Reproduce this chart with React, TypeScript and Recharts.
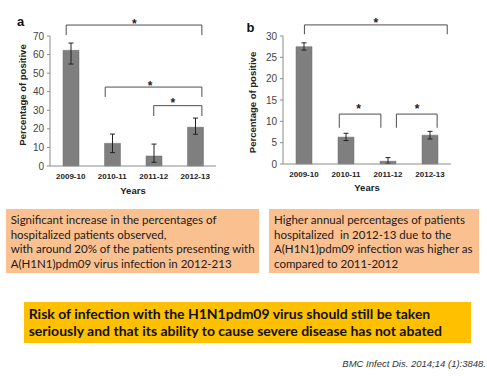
import React from 'react';
import { BarChart, Bar, XAxis, YAxis, ErrorBar, ReferenceLine, ReferenceDot } from 'recharts';

// ---------- data ----------
const years = ['2009-10', '2010-11', '2011-12', '2012-13'];

// panel a: hospitalized patients
const valuesA = [62.3, 12.2, 5.4, 20.9];
const errLowA = [7.4, 5.0, 3.4, 3.8];
const errHighA = [3.9, 5.0, 6.4, 4.9];
const ticksA = [0, 10, 20, 30, 40, 50, 60, 70];

// panel b: annual percentages
const valuesB = [27.5, 6.3, 0.65, 6.75];
const errLowB = [0.8, 0.8, 0.5, 0.9];
const errHighB = [0.9, 0.9, 0.85, 0.9];
const ticksB = [0, 5, 10, 15, 20, 25, 30];

// significance brackets (x in category-position units 0..4, y in data units)
const bracketFromA = [0.39, 1.33, 2.5];
const bracketToA = [3.66, 3.66, 3.66];
const bracketYA = [75.9, 42.5, 32.5];
const bracketDropA = [70.5, 37.2, 26.9];
const starXA = [2.03, 2.41, 2.96];
const starYA = [78.1, 44.7, 35.5];

const bracketFromB = [0.51, 1.34, 2.7];
const bracketToB = [3.91, 2.33, 3.67];
const bracketYB = [32.6, 11.7, 11.7];
const bracketDropB = [30.4, 8.5, 8.5];
const starXB = [2.21, 1.8, 3.19];
const starYB = [33.75, 13.6, 13.6];

// captions
const noteLeft = [
  'Significant increase in the percentages of',
  'hospitalized patients observed,',
  'with around 20% of the patients presenting with',
  'A(H1N1)pdm09 virus infection in 2012-213',
];
const noteRight = [
  'Higher annual percentages of patients',
  'hospitalized  in 2012-13 due to the',
  'A(H1N1)pdm09 infection was higher as',
  'compared to 2011-2012',
];
const conclusion = [
  'Risk of infection with the H1N1pdm09 virus should still be taken',
  'seriously and that its ability to cause severe disease has not abated',
];
const citation = 'BMC Infect Dis. 2014;14 (1):3848.';

const dataA = years.map((y, i) => ({ year: y, pos: i + 0.5, value: valuesA[i], err: [errLowA[i], errHighA[i]] }));
const dataB = years.map((y, i) => ({ year: y, pos: i + 0.5, value: valuesB[i], err: [errLowB[i], errHighB[i]] }));

const AXIS = '#8c8c8c';
const BAR = '#7f7f7f';
const LINE = '#4d4d4d';

const Star = (props: any) => (
  <text x={props.cx} y={props.cy + 7} textAnchor="middle" fontSize={12} fontWeight="bold" fill="#222" fontFamily="Liberation Sans, Arial, sans-serif">*</text>
);

function brackets(from: number[], to: number[], ys: number[], drops: number[], sx: number[], sy: number[]) {
  const out: any[] = [];
  from.forEach((f, i) => {
    const t = to[i];
    const y = ys[i];
    const d = drops[i];
    out.push(<ReferenceLine key={`h${i}`} xAxisId="n" segment={[{ x: f, y }, { x: t, y }]} stroke={LINE} strokeWidth={1} ifOverflow="visible" />);
    out.push(<ReferenceLine key={`l${i}`} xAxisId="n" segment={[{ x: f, y }, { x: f, y: d }]} stroke={LINE} strokeWidth={1} ifOverflow="visible" />);
    out.push(<ReferenceLine key={`r${i}`} xAxisId="n" segment={[{ x: t, y }, { x: t, y: d }]} stroke={LINE} strokeWidth={1} ifOverflow="visible" />);
    out.push(<ReferenceDot key={`s${i}`} xAxisId="n" x={sx[i]} y={sy[i]} r={0} ifOverflow="visible" shape={Star} />);
  });
  return out;
}

const font = 'Liberation Sans, Arial, sans-serif';

function Panel(props: {
  data: any[]; ticks: number[]; max: number; yWidth: number; right: number; xHeight: number; width: number;
  titleX: number; titleY: number; yearsOffset: number; br: any[];
}) {
  const { data, ticks, max, yWidth, right, xHeight, width, titleX, titleY, yearsOffset, br } = props;
  return (
    <BarChart width={width} height={200} data={data} margin={{ top: 36, right, left: 0, bottom: 0 }} barSize={16}>
      <XAxis
        dataKey="year"
        height={xHeight}
        tickLine={false}
        tickSize={4}
        tickMargin={3}
        axisLine={{ stroke: AXIS }}
        tick={{ fontSize: 8, fontWeight: 'bold', fill: '#222', fontFamily: font }}
        interval={0}
        label={{ value: 'Years', position: 'insideBottom', offset: yearsOffset, style: { fontSize: 9.5, fontWeight: 'bold', fill: '#222', fontFamily: font } }}
      />
      <XAxis xAxisId="n" dataKey="pos" type="number" domain={[0, 4]} ticks={[0, 1, 2, 3, 4]} hide allowDataOverflow />
      <YAxis
        width={yWidth}
        domain={[0, max]}
        ticks={ticks}
        interval={0}
        tickSize={3}
        tickMargin={3}
        axisLine={{ stroke: AXIS }}
        tickLine={{ stroke: AXIS }}
        tick={{ fontSize: 10, fill: '#444', fontFamily: font }}
        label={{
          content: () => (
            <text x={titleX} y={titleY} transform={`rotate(-90 ${titleX} ${titleY})`} textAnchor="middle" dominantBaseline="central" fontSize={9.5} fontWeight="bold" fill="#222" fontFamily={font}>
              Percentage of positive
            </text>
          ),
        }}
      />
      <Bar dataKey="value" fill={BAR} stroke="#6e6e6e" strokeWidth={0.5} isAnimationActive={false}>
        <ErrorBar dataKey="err" width={2.5} stroke="#222" strokeWidth={1} direction="y" />
      </Bar>
      {br}
    </BarChart>
  );
}

export default function App() {
  return (
    <div style={{ position: 'absolute', left: 0, top: 0, width: 487, height: 376, background: '#fff', overflow: 'hidden' }}>
      <div style={{ position: 'absolute', left: 0, top: 0 }}>
        <Panel data={dataA} ticks={ticksA} max={70} yWidth={50} right={29} xHeight={34} width={245}
          titleX={22} titleY={95} yearsOffset={6.5}
          br={brackets(bracketFromA, bracketToA, bracketYA, bracketDropA, starXA, starYA)} />
      </div>
      <div style={{ position: 'absolute', left: 245, top: 0 }}>
        <Panel data={dataB} ticks={ticksB} max={30} yWidth={38} right={36} xHeight={36} width={242}
          titleX={7.5} titleY={102.5} yearsOffset={9.3}
          br={brackets(bracketFromB, bracketToB, bracketYB, bracketDropB, starXB, starYB)} />
      </div>
      <svg width={487} height={376} style={{ position: 'absolute', left: 0, top: 0, pointerEvents: 'none' }}>
        <text x={17} y={25.5} fontSize={13} fontWeight="bold" fill="#111" fontFamily={font}>a</text>
        <text x={246.5} y={31.7} fontSize={13} fontWeight="bold" fill="#111" fontFamily={font}>b</text>

        <rect x={6} y={209} width={253} height={64} fill="#FAC090" />
        {noteLeft.map((t, i) => (
          <text key={i} x={10.7} y={223.9 + i * 14.6} fontSize={11.5} fill="#1a1a1a" fontFamily="Lato, sans-serif">{t}</text>
        ))}
        <rect x={269} y={209} width={210} height={64} fill="#FAC090" />
        {noteRight.map((t, i) => (
          <text key={i} x={274} y={223.9 + i * 14.6} fontSize={11.5} fill="#1a1a1a" fontFamily="Lato, sans-serif" style={{ whiteSpace: 'pre' }}>{t}</text>
        ))}

        <rect x={24} y={302} width={447} height={41} fill="#FFC000" />
        {conclusion.map((t, i) => (
          <text key={i} x={28.7} y={319 + i * 17.4} fontSize={14} fontWeight="bold" fill="#111" fontFamily="Lato, sans-serif">{t}</text>
        ))}

        <text x={486} y={366.5} textAnchor="end" fontSize={9.5} fontStyle="italic" fill="#333" fontFamily={font}>{citation}</text>
      </svg>
    </div>
  );
}
